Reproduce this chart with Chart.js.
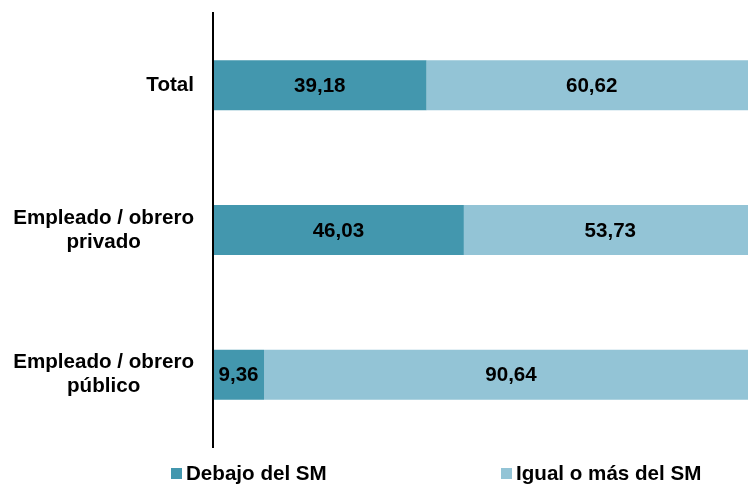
<!DOCTYPE html>
<html>
<head>
<meta charset="utf-8">
<script src="https://cdn.jsdelivr.net/npm/chart.js@4/dist/chart.umd.min.js"></script>
<style>
  html, body { margin: 0; padding: 0; background: #ffffff; overflow: hidden; }
  #wrap { width: 758px; height: 487px; }
</style>
</head>
<body>
<div id="wrap"><canvas id="c" width="758" height="487"></canvas></div>
<script>
const categories = [["Total"], ["Empleado / obrero", "privado"], ["Empleado / obrero", "público"]];
const seriesNames = ["Debajo del SM", "Igual o más del SM"];
const debajo = [39.18, 46.03, 9.36];
const igualOMas = [60.62, 53.73, 90.64];
const seriesColors = ["#4397AE", "#93C4D6"];

const FONT = "'Liberation Sans', Arial, sans-serif";
const FSIZE = "bold 20.6px ";

const yLabelsPlugin = {
  id: 'yLabels',
  afterDraw(chart) {
    const ctx = chart.ctx;
    const scale = chart.scales.y;
    ctx.save();
    ctx.font = FSIZE + FONT;
    ctx.fillStyle = "#000";
    ctx.textBaseline = "middle";
    ctx.textAlign = "center";
    const rightEdge = 194;
    const lh = 24;
    chart.data.labels.forEach((lines, i) => {
      const y = scale.getPixelForValue(i);
      const maxW = Math.max(...lines.map(l => ctx.measureText(l).width));
      const cx = rightEdge - maxW / 2;
      const y0 = y - (lines.length - 1) * lh / 2;
      lines.forEach((l, k) => ctx.fillText(l, cx, y0 + k * lh));
    });
    ctx.restore();
  }
};

const valueLabelsPlugin = {
  id: 'valueLabels',
  afterDatasetsDraw(chart) {
    const ctx = chart.ctx;
    ctx.save();
    ctx.font = FSIZE + FONT;
    ctx.fillStyle = "#000";
    ctx.textBaseline = "middle";
    ctx.textAlign = "center";
    chart.data.datasets.forEach((ds, di) => {
      const meta = chart.getDatasetMeta(di);
      meta.data.forEach((el, i) => {
        const p = el.getCenterPoint();
        ctx.fillText(ds.data[i].toFixed(2).replace('.', ','), p.x, p.y + 1);
      });
    });
    ctx.restore();
  }
};

const legendPlugin = {
  id: 'customLegend',
  afterDraw(chart) {
    const ctx = chart.ctx;
    const xs = [171, 501];
    ctx.save();
    ctx.font = FSIZE + FONT;
    ctx.textBaseline = "middle";
    ctx.textAlign = "left";
    chart.data.datasets.forEach((ds, i) => {
      ctx.fillStyle = ds.backgroundColor;
      ctx.fillRect(xs[i], 468, 11, 11);
      ctx.fillStyle = "#000";
      ctx.fillText(ds.label, xs[i] + 15, 474.5);
    });
    ctx.restore();
  }
};

new Chart(document.getElementById('c'), {
  type: 'bar',
  data: {
    labels: categories,
    datasets: [
      { label: seriesNames[0], data: debajo, backgroundColor: seriesColors[0], borderWidth: 0 },
      { label: seriesNames[1], data: igualOMas, backgroundColor: seriesColors[1], borderWidth: 0 }
    ]
  },
  options: {
    indexAxis: 'y',
    responsive: false,
    animation: false,
    layout: { padding: { top: 13, bottom: 40, left: 0, right: 0 } },
    datasets: { bar: { barPercentage: 1, categoryPercentage: 0.3456 } },
    scales: {
      x: { stacked: true, min: 0, max: 100, display: false },
      y: {
        stacked: true,
        grid: { display: false },
        border: { display: true, color: '#000', width: 2, z: 1 },
        ticks: { display: false },
        afterFit(s) { s.width = 213; }
      }
    },
    plugins: {
      legend: { display: false },
      tooltip: { enabled: false }
    }
  },
  plugins: [yLabelsPlugin, valueLabelsPlugin, legendPlugin]
});
</script>
</body>
</html>
